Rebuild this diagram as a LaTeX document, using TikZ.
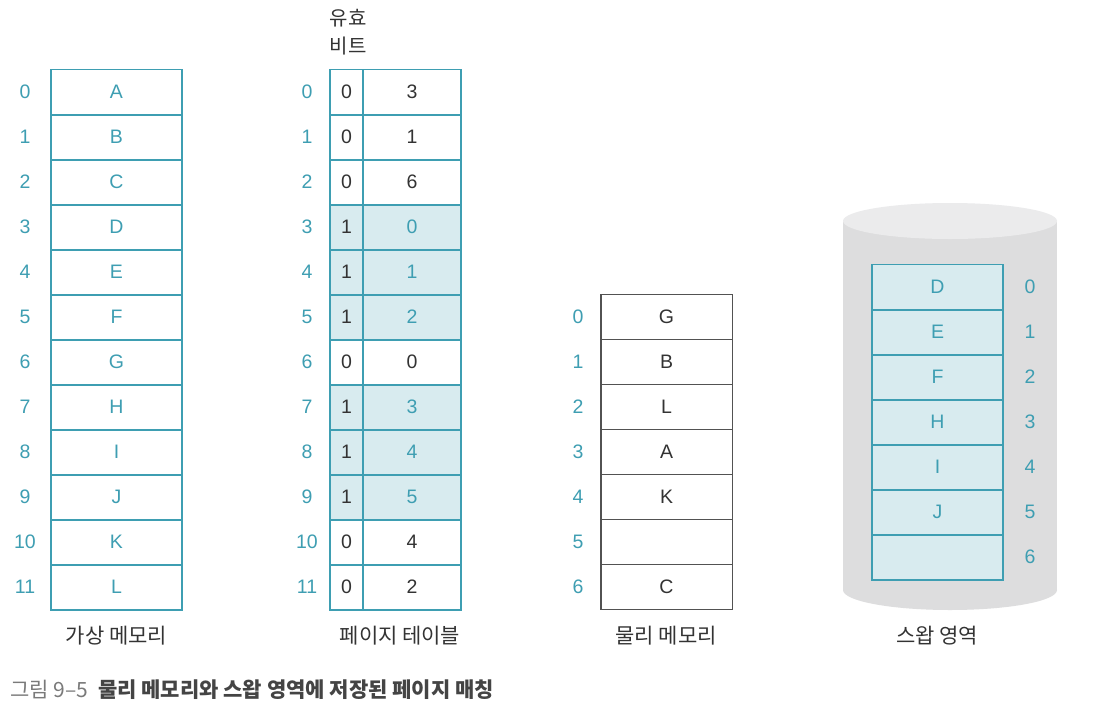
\documentclass[tikz,border=0pt]{standalone}
\usepackage{fontspec}
\setmainfont{Liberation Sans}
\newfontfamily\kr{Noto Sans CJK KR}
\definecolor{teal}{HTML}{3E9EB2}
\definecolor{ink}{HTML}{333333}
\definecolor{shade}{HTML}{D8EBEF}
\definecolor{cylbody}{HTML}{DDDDDE}
\definecolor{cyltop}{HTML}{EBEBEC}
\definecolor{capgray}{HTML}{7A7A7A}
\definecolor{capdark}{HTML}{444444}
\begin{document}
\begin{tikzpicture}[x=1pt,y=-1pt,
  txt/.style={font=\fontsize{19.5}{21}\selectfont},
  cellbox/.style={minimum height=45pt, inner sep=0pt, txt},
  vcell/.style={cellbox, minimum width=131pt, text=teal},
  pcell/.style={cellbox, minimum width=131pt, text=ink},
  scell/.style={cellbox, minimum width=131pt, fill=shade, text=teal},
  tealline/.style={draw=teal, line width=1.6pt},
  inkline/.style={draw=ink!85, line width=1.4pt},
  idx/.style={txt, text=teal},
  lbl/.style={font=\kr\fontsize{21}{26}\selectfont, text=ink}]
\useasboundingbox (0,0) rectangle (1120,724);
\fill[white] (0,0) rectangle (1120,724);

% virtual memory
\foreach \l [count=\i from 0] in {A,B,C,D,E,F,G,H,I,J,K,L}{
  \node[vcell] (v\i) at (116.5,{92+45*\i}) {\l};
  \node[idx] (vi\i) at (25,{92+45*\i}) {\i};
}
\foreach \i in {0,...,11}{\draw[tealline] (v\i.north west) rectangle (v\i.south east);}
\node[lbl] (vlab) at (116.5,636) {가상 메모리};

% page table
\foreach \v/\f/\fc/\tc [count=\i from 0] in {0/3/white/ink,0/1/white/ink,0/6/white/ink,1/0/shade/teal,1/1/shade/teal,1/2/shade/teal,0/0/white/ink,1/3/shade/teal,1/4/shade/teal,1/5/shade/teal,0/4/white/ink,0/2/white/ink}{
  \node[cellbox, minimum width=33pt, fill=\fc, text=ink] (pv\i) at (346.5,{92+45*\i}) {\v};
  \node[cellbox, minimum width=98pt, fill=\fc, text=\tc] (pf\i) at (412,{92+45*\i}) {\f};
  \node[idx] (pi\i) at (307,{92+45*\i}) {\i};
}
\foreach \i in {0,...,11}{
  \draw[tealline] (pv\i.north west) rectangle (pv\i.south east);
  \draw[tealline] (pf\i.north west) rectangle (pf\i.south east);
}
\node[lbl, align=center, font=\kr\fontsize{20}{28}\selectfont] (vbit) at (348,32) {유효\\비트};
\node[lbl] (plab) at (400,636) {페이지 테이블};

% physical memory
\foreach \l [count=\i from 0] in {G,B,L,A,K,{},C}{
  \node[pcell] (m\i) at (666.5,{317+45*\i}) {\l};
  \node[idx] (mi\i) at (578,{317+45*\i}) {\i};
}
\foreach \i in {0,...,6}{\draw[inkline] (m\i.north west) rectangle (m\i.south east);}
\node[lbl] (mlab) at (666,636) {물리 메모리};

% swap area cylinder
\fill[cylbody] (843,221) rectangle (1057,590);
\fill[cylbody] (950,590) ellipse [x radius=107, y radius=20];
\fill[cyltop] (950,221) ellipse [x radius=107, y radius=18];
\foreach \l [count=\i from 0] in {D,E,F,H,I,J,{}}{
  \node[scell] (s\i) at (937.5,{287+45*\i}) {\l};
  \node[idx] (si\i) at (1030,{287+45*\i}) {\i};
}
\foreach \i in {0,...,6}{\draw[tealline] (s\i.north west) rectangle (s\i.south east);}
\node[lbl] (slab) at (937,636) {스왑 영역};

% caption
\node[anchor=west, inner sep=0pt, font=\kr\fontsize{21}{24}\selectfont] (cap) at (10,690)
  {\textcolor{capgray}{그림 9–5}\hspace{10pt}\textcolor{capdark}{\bfseries 물리 메모리와 스왑 영역에 저장된 페이지 매칭}};
\end{tikzpicture}
\end{document}
